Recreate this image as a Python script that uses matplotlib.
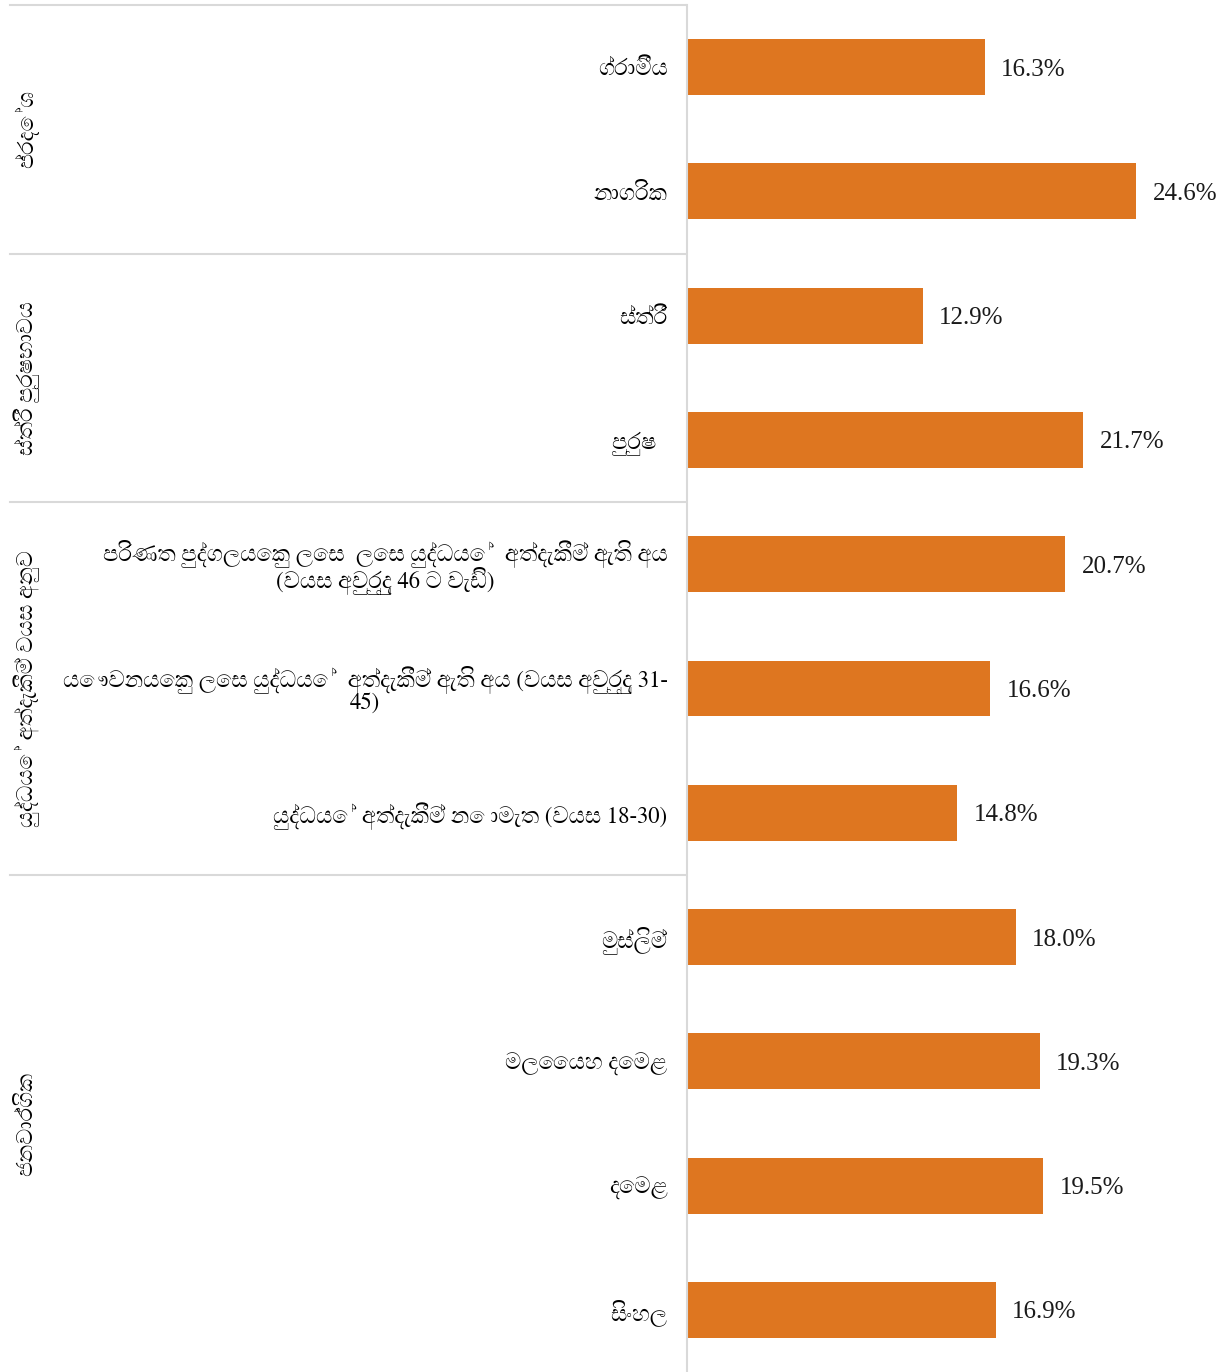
import matplotlib
matplotlib.use("Agg")
from matplotlib import pyplot as plt
from matplotlib import font_manager, transforms
from fontTools.ttLib import TTFont

# データ (ZWJ はフォントに無いので省略)
categories = [
    "ග්රාමීය",
    "නාගරික",
    "ස්ත්රී",
    "පුරුෂ  ",
    "පරිණත පුද්ගලයෙකු ලෙස  ලෙස යුද්ධයේ  අත්දැකීම් ඇති අය\n(වයස අවුරුදු 46 ට වැඩි)",
    "යෞවනයෙකු ලෙස යුද්ධයේ  අත්දැකීම් ඇති අය (වයස අවුරුදු 31-\n45)",
    "යුද්ධයේ අත්දැකීම් නොමැත (වයස 18-30)",
    "මුස්ලිම්",
    "මලෛයහ දෙමළ",
    "දෙමළ",
    "සිංහල",
]
values = [16.3, 24.6, 12.9, 21.7, 20.7, 16.6, 14.8, 18.0, 19.3, 19.5, 16.9]
group_names = ["ප්රදේශ", "ස්ත්රී පුරුෂභාවය", "යුද්ධයේ අත්දැකීම් වයස අනුව", "ජනවාර්ගික"]
group_sizes = [2, 2, 3, 4]

# シンハラ文字を持つフォントを探す (等幅は後回し)
candidates = []
for f in font_manager.fontManager.ttflist:
    try:
        cmap = TTFont(f.fname, fontNumber=0, lazy=True).getBestCmap()
    except Exception:
        continue
    if cmap and 0x0DC3 in cmap:
        candidates.append(f.name)
candidates = sorted(set(candidates), key=lambda n: ("Mono" in n, "Serif" not in n, n))
label_family = candidates[:1] + ["Liberation Serif", "DejaVu Sans"]

bar_color = "#DE7620"
line_color = "#D9D9D9"

fig = plt.figure(figsize=(12.24, 13.72), dpi=100)
ax = fig.add_axes([687 / 1224, 0.0, 1 - 687 / 1224, (1372 - 5) / 1372])

y = list(range(len(categories)))
ax.barh(y, values, height=0.45, color=bar_color)
ax.set_ylim(len(categories) - 0.5, -0.5)
ax.set_xlim(0, 29.4)

for yi, v in zip(y, values):
    ax.text(v + 0.9, yi, f"{v:.1f}%", va="center_baseline", ha="left",
            fontsize=18, family=["Liberation Serif", "DejaVu Sans"], color="#1a1a1a")

ax.set_yticks(y)
ax.set_yticklabels(categories, fontsize=16.3, family=label_family)
for t in ax.get_yticklabels():
    t.set_multialignment("center")
    t.set_linespacing(0.9)
ax.tick_params(axis="y", length=0, pad=14)
ax.set_xticks([])

for s in ["top", "right", "bottom"]:
    ax.spines[s].set_visible(False)
ax.spines["left"].set_color(line_color)
ax.spines["left"].set_linewidth(1.5)

# グループ区切り線とグループ名
trans = transforms.blended_transform_factory(fig.transFigure, ax.transData)
start = 0
for name, n in zip(group_names, group_sizes):
    ax.plot([10 / 1224, 686 / 1224], [start - 0.5, start - 0.5], transform=trans,
            color=line_color, lw=1.5, clip_on=False)
    center = start + (n - 1) / 2
    ax.text(27 / 1224, center, name, transform=trans, rotation=90,
            ha="center", va="center", fontsize=16, family=label_family)
    start += n

plt.savefig("out.png", dpi=100)
plt.close()
